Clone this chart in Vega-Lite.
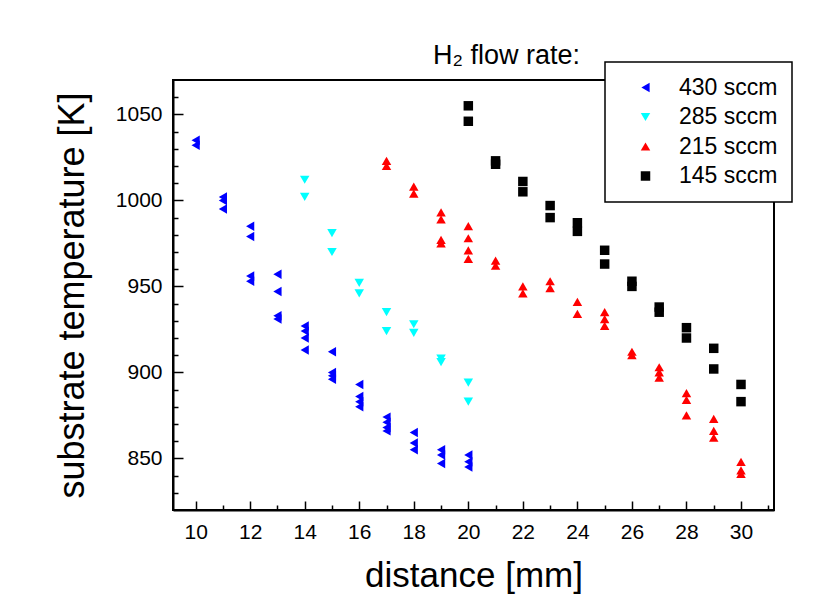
{
  "$schema": "https://vega.github.io/schema/vega-lite/v6.json",
  "autosize": "none",
  "width": 601,
  "height": 430,
  "padding": {"left": 173, "top": 80, "right": 39, "bottom": 103},
  "background": "white",
  "title": {"text": "H₂ flow rate:", "anchor": "start", "frame": "group", "dx": 260, "offset": -9, "fontSize": 27, "font": "Liberation Sans", "fontWeight": "normal", "color": "black"},
  "config": {
    "view": {"stroke": "black", "strokeWidth": 2},
    "font": "Liberation Sans",
    "legend": {"orient": "none", "legendX": 432, "legendY": -18, "strokeColor": "black", "strokeWidth": 1.5, "fillColor": "white", "padding": 14, "labelFontSize": 23, "labelFont": "Liberation Sans", "labelColor": "black", "symbolOffset": 15, "labelOffset": 22, "rowPadding": 5.5, "title": null, "symbolOpacity": 1}
  },
  "datasets": {
    "pts": [
      {"d": 10, "T": 1035, "rate": "430 sccm"}, {"d": 10, "T": 1032, "rate": "430 sccm"},
      {"d": 11, "T": 1002, "rate": "430 sccm"}, {"d": 11, "T": 1000, "rate": "430 sccm"}, {"d": 11, "T": 995, "rate": "430 sccm"},
      {"d": 12, "T": 985, "rate": "430 sccm"}, {"d": 12, "T": 979, "rate": "430 sccm"}, {"d": 12, "T": 956, "rate": "430 sccm"}, {"d": 12, "T": 953, "rate": "430 sccm"},
      {"d": 13, "T": 957, "rate": "430 sccm"}, {"d": 13, "T": 947, "rate": "430 sccm"}, {"d": 13, "T": 933, "rate": "430 sccm"}, {"d": 13, "T": 931, "rate": "430 sccm"},
      {"d": 14, "T": 927, "rate": "430 sccm"}, {"d": 14, "T": 924, "rate": "430 sccm"}, {"d": 14, "T": 920, "rate": "430 sccm"}, {"d": 14, "T": 913, "rate": "430 sccm"},
      {"d": 15, "T": 912, "rate": "430 sccm"}, {"d": 15, "T": 900, "rate": "430 sccm"}, {"d": 15, "T": 898, "rate": "430 sccm"}, {"d": 15, "T": 896, "rate": "430 sccm"},
      {"d": 16, "T": 893, "rate": "430 sccm"}, {"d": 16, "T": 886, "rate": "430 sccm"}, {"d": 16, "T": 883, "rate": "430 sccm"}, {"d": 16, "T": 880, "rate": "430 sccm"},
      {"d": 17, "T": 874, "rate": "430 sccm"}, {"d": 17, "T": 871, "rate": "430 sccm"}, {"d": 17, "T": 868, "rate": "430 sccm"}, {"d": 17, "T": 866, "rate": "430 sccm"},
      {"d": 18, "T": 865, "rate": "430 sccm"}, {"d": 18, "T": 859, "rate": "430 sccm"}, {"d": 18, "T": 855, "rate": "430 sccm"},
      {"d": 19, "T": 855, "rate": "430 sccm"}, {"d": 19, "T": 852, "rate": "430 sccm"}, {"d": 19, "T": 847, "rate": "430 sccm"},
      {"d": 20, "T": 852, "rate": "430 sccm"}, {"d": 20, "T": 848, "rate": "430 sccm"}, {"d": 20, "T": 845, "rate": "430 sccm"},
      {"d": 14, "T": 1012, "rate": "285 sccm"}, {"d": 14, "T": 1002, "rate": "285 sccm"},
      {"d": 15, "T": 981, "rate": "285 sccm"}, {"d": 15, "T": 970, "rate": "285 sccm"},
      {"d": 16, "T": 952, "rate": "285 sccm"}, {"d": 16, "T": 946, "rate": "285 sccm"},
      {"d": 17, "T": 935, "rate": "285 sccm"}, {"d": 17, "T": 924, "rate": "285 sccm"},
      {"d": 18, "T": 928, "rate": "285 sccm"}, {"d": 18, "T": 923, "rate": "285 sccm"},
      {"d": 19, "T": 908, "rate": "285 sccm"}, {"d": 19, "T": 906, "rate": "285 sccm"},
      {"d": 20, "T": 894, "rate": "285 sccm"}, {"d": 20, "T": 883, "rate": "285 sccm"},
      {"d": 17, "T": 1023, "rate": "215 sccm"}, {"d": 17, "T": 1020, "rate": "215 sccm"},
      {"d": 18, "T": 1008, "rate": "215 sccm"}, {"d": 18, "T": 1004, "rate": "215 sccm"},
      {"d": 19, "T": 993, "rate": "215 sccm"}, {"d": 19, "T": 989, "rate": "215 sccm"}, {"d": 19, "T": 977, "rate": "215 sccm"}, {"d": 19, "T": 975, "rate": "215 sccm"},
      {"d": 20, "T": 985, "rate": "215 sccm"}, {"d": 20, "T": 978, "rate": "215 sccm"}, {"d": 20, "T": 971, "rate": "215 sccm"}, {"d": 20, "T": 966, "rate": "215 sccm"},
      {"d": 21, "T": 965, "rate": "215 sccm"}, {"d": 21, "T": 962, "rate": "215 sccm"},
      {"d": 22, "T": 950, "rate": "215 sccm"}, {"d": 22, "T": 946, "rate": "215 sccm"},
      {"d": 23, "T": 953, "rate": "215 sccm"}, {"d": 23, "T": 949, "rate": "215 sccm"},
      {"d": 24, "T": 941, "rate": "215 sccm"}, {"d": 24, "T": 934, "rate": "215 sccm"},
      {"d": 25, "T": 935, "rate": "215 sccm"}, {"d": 25, "T": 931, "rate": "215 sccm"}, {"d": 25, "T": 927, "rate": "215 sccm"},
      {"d": 26, "T": 912, "rate": "215 sccm"}, {"d": 26, "T": 910, "rate": "215 sccm"},
      {"d": 27, "T": 903, "rate": "215 sccm"}, {"d": 27, "T": 900, "rate": "215 sccm"}, {"d": 27, "T": 897, "rate": "215 sccm"},
      {"d": 28, "T": 888, "rate": "215 sccm"}, {"d": 28, "T": 884, "rate": "215 sccm"}, {"d": 28, "T": 875, "rate": "215 sccm"},
      {"d": 29, "T": 873, "rate": "215 sccm"}, {"d": 29, "T": 866, "rate": "215 sccm"}, {"d": 29, "T": 862, "rate": "215 sccm"},
      {"d": 30, "T": 848, "rate": "215 sccm"}, {"d": 30, "T": 843, "rate": "215 sccm"}, {"d": 30, "T": 841, "rate": "215 sccm"},
      {"d": 20, "T": 1055, "rate": "145 sccm"}, {"d": 20, "T": 1046, "rate": "145 sccm"},
      {"d": 21, "T": 1023, "rate": "145 sccm"}, {"d": 21, "T": 1021, "rate": "145 sccm"},
      {"d": 22, "T": 1011, "rate": "145 sccm"}, {"d": 22, "T": 1005, "rate": "145 sccm"},
      {"d": 23, "T": 997, "rate": "145 sccm"}, {"d": 23, "T": 990, "rate": "145 sccm"},
      {"d": 24, "T": 987, "rate": "145 sccm"}, {"d": 24, "T": 982, "rate": "145 sccm"},
      {"d": 25, "T": 971, "rate": "145 sccm"}, {"d": 25, "T": 963, "rate": "145 sccm"},
      {"d": 26, "T": 953, "rate": "145 sccm"}, {"d": 26, "T": 950, "rate": "145 sccm"},
      {"d": 27, "T": 938, "rate": "145 sccm"}, {"d": 27, "T": 935, "rate": "145 sccm"},
      {"d": 28, "T": 926, "rate": "145 sccm"}, {"d": 28, "T": 920, "rate": "145 sccm"},
      {"d": 29, "T": 914, "rate": "145 sccm"}, {"d": 29, "T": 902, "rate": "145 sccm"},
      {"d": 30, "T": 893, "rate": "145 sccm"}, {"d": 30, "T": 883, "rate": "145 sccm"}
    ]
  },
  "data": {"name": "pts"},
  "layer": [
    {
      "mark": {"type": "point", "filled": true, "opacity": 0},
      "encoding": {
        "x": {"field": "d", "type": "quantitative",
              "scale": {"domain": [9.17, 31.21], "nice": false, "zero": false},
              "axis": {"orient": "bottom", "offset": -5, "values": [11, 13, 15, 17, 19, 21, 23, 25, 27, 29, 31], "ticks": true, "tickSize": 5, "tickWidth": 1.5, "tickColor": "black", "labels": false, "domain": false, "grid": false, "title": null}},
        "y": {"field": "T", "type": "quantitative",
              "scale": {"domain": [820, 1070], "nice": false, "zero": false},
              "axis": {"orient": "left", "values": [830, 840, 860, 870, 880, 890, 910, 920, 930, 940, 960, 970, 980, 990, 1010, 1020, 1030, 1040, 1060], "tickSize": -5, "tickWidth": 1.5, "tickColor": "black", "labels": false, "domain": false, "grid": false, "title": null}}
      }
    },
    {
      "mark": {"type": "point", "filled": true, "opacity": 1, "strokeWidth": 0},
      "encoding": {
        "x": {"field": "d", "type": "quantitative",
              "scale": {"domain": [9.17, 31.21], "nice": false, "zero": false},
              "axis": {"orient": "bottom", "values": [10, 12, 14, 16, 18, 20, 22, 24, 26, 28, 30], "tickSize": -9, "tickWidth": 1.5, "tickColor": "black", "domain": true, "domainColor": "black", "domainWidth": 2, "grid": false,
                       "labelFontSize": 21, "labelFont": "Liberation Sans", "labelColor": "black", "labelPadding": 20,
                       "title": "distance [mm]", "titleFontSize": 35, "titleFont": "Liberation Sans", "titleFontWeight": "normal", "titleColor": "black", "titlePadding": 16}},
        "y": {"field": "T", "type": "quantitative",
              "scale": {"domain": [820, 1070], "nice": false, "zero": false},
              "axis": {"orient": "left", "values": [850, 900, 950, 1000, 1050], "format": "d", "tickSize": -10, "tickWidth": 1.5, "tickColor": "black", "domain": true, "domainColor": "black", "domainWidth": 2, "grid": false,
                       "labelFontSize": 21, "labelFont": "Liberation Sans", "labelColor": "black", "labelPadding": 21,
                       "title": "substrate temperature [K]", "titleFontSize": 36, "titleFont": "Liberation Sans", "titleFontWeight": "normal", "titleColor": "black", "titlePadding": 24}},
        "color": {"field": "rate", "type": "nominal",
                  "scale": {"domain": ["430 sccm", "285 sccm", "215 sccm", "145 sccm"], "range": ["#0000ff", "#00ffff", "#ff0000", "#000000"]}},
        "shape": {"field": "rate", "type": "nominal",
                  "scale": {"domain": ["430 sccm", "285 sccm", "215 sccm", "145 sccm"], "range": ["triangle-left", "triangle-down", "triangle-up", "square"]}},
        "size": {"field": "rate", "type": "nominal",
                 "scale": {"domain": ["430 sccm", "285 sccm", "215 sccm", "145 sccm"], "range": [90, 90, 90, 50]}}
      }
    }
  ],
  "resolve": {"axis": {"x": "independent", "y": "independent"}}
}
